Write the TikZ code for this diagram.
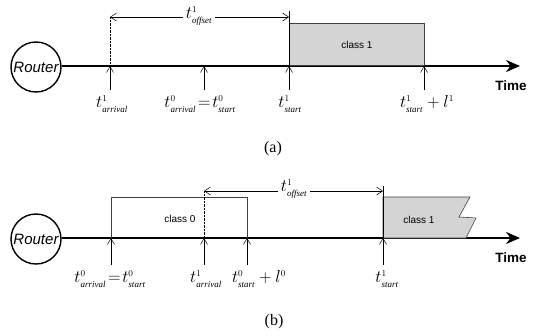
\documentclass[tikz,border=0pt]{standalone}
\usepackage{fontspec}
\setmainfont{Liberation Serif}
\setsansfont{Liberation Sans}
\usetikzlibrary{arrows.meta}
\newcommand\tv[2]{t^{\scriptscriptstyle #1}_{\scriptscriptstyle\mathit{#2}}}
\newcommand\eqs{\mskip2mu{=}\mskip2mu}
\begin{document}
\begin{tikzpicture}[x=1pt,y=-1pt,
  axisline/.style={line width=2.6pt,-{Stealth[length=14pt,width=12pt]}},
  uparrow/.style={line width=0.5pt,-{Straight Barb[length=6pt,width=7pt]}},
  offarrow/.style={line width=0.5pt,{Straight Barb[length=6pt,width=8pt]}-{Straight Barb[length=6pt,width=8pt]}},
  dotline/.style={line width=0.4pt,densely dotted},
  thinline/.style={line width=0.5pt},
  router/.style={circle,draw,line width=1.4pt,minimum size=50pt,inner sep=0pt,font=\fontsize{15}{17}\sffamily\itshape},
  lab/.style={inner sep=0pt,font=\fontsize{18}{20}\selectfont},
  cls/.style={font=\fontsize{10}{12}\sffamily},
  timelab/.style={font=\fontsize{13.5}{15}\sffamily\bfseries},
  captext/.style={font=\fontsize{16}{18}\selectfont},
  pkt/.style={draw=black!75,line width=0.6pt,fill=black!17}]
\useasboundingbox (0,0) rectangle (538,335);
% ---------- panel (a)
\node[router] (ra) at (36,67) {Router};
\coordinate (aend) at (520,66);
\draw[axisline] (ra.east |- 0,66) -- (aend);
\node[timelab] (timea) at (511,86) {Time};
\coordinate (a1) at (110,66); \coordinate (a1b) at (110,90);
\coordinate (a2) at (204,66); \coordinate (a2b) at (204,90);
\coordinate (a3) at (289,66); \coordinate (a3b) at (289,90);
\coordinate (a4) at (424,66); \coordinate (a4b) at (424,90);
\coordinate (a1t) at (110,17); \coordinate (a3t) at (289,17);
\coordinate (a3top) at (289,11);
\node[pkt,minimum width=135pt,minimum height=42pt,anchor=south west,inner sep=0pt] (pa) at (289,66) {};
\node[cls] (pal) at (357,45) {class 1};
\draw[dotline] (a1t) -- (a1);
\draw[thinline] (a3top) -- (a3);
\draw[offarrow] (a1t) -- (a3t);
\node[lab,fill=white,inner xsep=3pt] (offa) at (199,16) {$\tv{1}{offset}$};
\foreach \p in {1,2,3,4}{\draw[uparrow] (a\p b) -- (a\p);}
\node[lab] (la1) at (112,104) {$\tv{1}{arrival}$};
\node[lab] (la2) at (200,104) {$\tv{0}{arrival}\eqs\tv{0}{start}$};
\node[lab] (la3) at (290,104) {$\tv{1}{start}$};
\node[lab] (la4) at (427,104) {$\tv{1}{start}+l^{\scriptscriptstyle 1}$};
\node[captext] (capa) at (273,149) {(a)};
% ---------- panel (b)
\node[router] (rb) at (36,239) {Router};
\coordinate (bend) at (520,238);
\draw[axisline] (rb.east |- 0,238) -- (bend);
\node[timelab] (timeb) at (511,258) {Time};
\coordinate (b1) at (111,238); \coordinate (b1b) at (111,265);
\coordinate (b2) at (204,238); \coordinate (b2b) at (204,265);
\coordinate (b3) at (247,238); \coordinate (b3b) at (247,265);
\coordinate (b4) at (383,238); \coordinate (b4b) at (383,265);
\coordinate (b2t) at (204,191); \coordinate (b4t) at (383,191);
\coordinate (b4top) at (383,186);
\draw[draw=black!75,line width=0.6pt] (111,238) -- (111,197) -- (247,197) -- (247,238);
\node[cls] (pbl0) at (180,219) {class 0};
\draw[pkt] (383,197) -- (470,197) -- (459,217) -- (476,218) -- (466,238) -- (383,238) -- cycle;
\node[cls] (pbl1) at (419,220) {class 1};
\draw[dotline] (b2t) -- (b2);
\draw[thinline] (b4top) -- (b4);
\draw[offarrow] (b2t) -- (b4t);
\node[lab,fill=white,inner xsep=3pt] (offb) at (294,189) {$\tv{1}{offset}$};
\foreach \p in {1,2,3,4}{\draw[uparrow] (b\p b) -- (b\p);}
\node[lab] (lb1) at (110,279) {$\tv{0}{arrival}\eqs\tv{0}{start}$};
\node[lab] (lb2) at (206,279) {$\tv{1}{arrival}$};
\node[lab] (lb3) at (259,279) {$\tv{0}{start}+l^{\scriptscriptstyle 0}$};
\node[lab] (lb4) at (387,279) {$\tv{1}{start}$};
\node[captext] (capb) at (274,322) {(b)};
\end{tikzpicture}
\end{document}
